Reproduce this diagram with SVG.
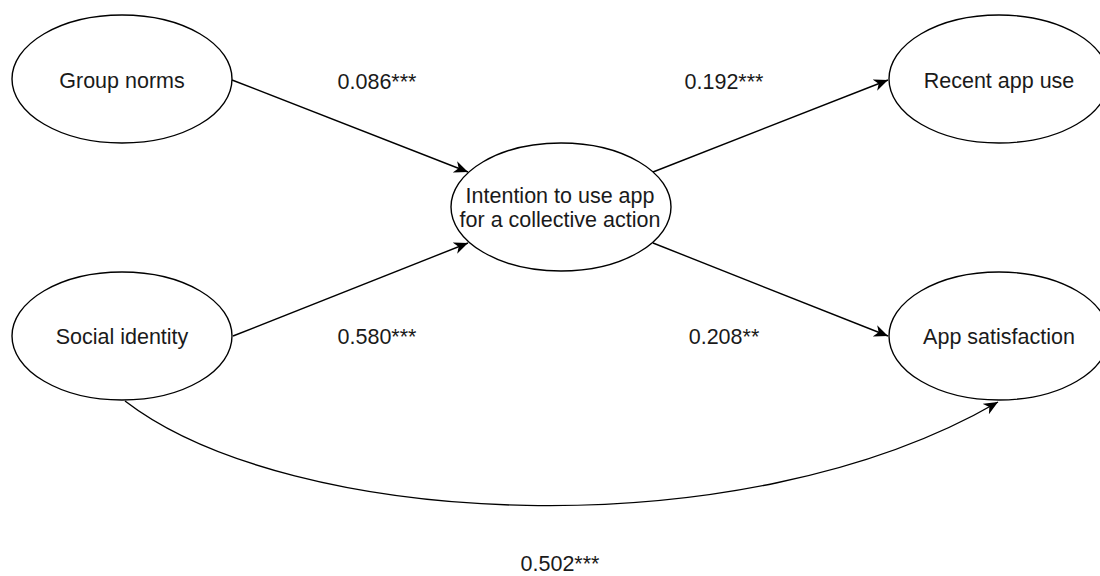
<svg xmlns="http://www.w3.org/2000/svg" width="1100" height="576" viewBox="0 0 1100 576">
<style>
.node ellipse{fill:#ffffff;stroke:#000000;stroke-width:1.4}
text{font-family:"Liberation Sans",Arial,Helvetica,sans-serif;font-size:21.5px;fill:#1a1a1a;text-anchor:middle}
.edge{fill:none;stroke:#000000;stroke-width:1.4;marker-end:url(#arr)}
</style>
<defs>
<marker id="arr" markerUnits="userSpaceOnUse" markerWidth="16" markerHeight="14" refX="14" refY="6" orient="auto">
<path d="M0,0 L14,6 L0,12 L4,6 Z" fill="#000000"/>
</marker>
</defs>
<rect width="1100" height="576" fill="#ffffff"/>
<g id="connectors">
<path class="edge" d="M232,80 L468,172"/>
<path class="edge" d="M233,336 L468,243"/>
<path class="edge" d="M653,172 L888,80"/>
<path class="edge" d="M653,243 L888,336"/>
<path class="edge" d="M125,401 C290,528 740,552 998,402"/>
</g>
<g id="group-norms" class="node">
<ellipse cx="122" cy="79" rx="110" ry="64"/>
<text x="122" y="88">Group norms</text>
</g>
<g id="social-identity" class="node">
<ellipse cx="122" cy="336" rx="110" ry="64"/>
<text x="122" y="344">Social identity</text>
</g>
<g id="intention" class="node">
<ellipse cx="561" cy="207" rx="110" ry="64"/>
<text x="560" y="203">Intention to use app</text>
<text x="560" y="227">for a collective action</text>
</g>
<g id="recent-app-use" class="node">
<ellipse cx="999" cy="79" rx="110" ry="64"/>
<text x="999" y="88">Recent app use</text>
</g>
<g id="app-satisfaction" class="node">
<ellipse cx="999" cy="336" rx="110" ry="64"/>
<text x="999" y="344">App satisfaction</text>
</g>
<g id="labels">
<text x="377" y="89">0.086***</text>
<text x="724" y="89">0.192***</text>
<text x="377" y="344">0.580***</text>
<text x="724" y="344">0.208**</text>
<text x="560" y="571">0.502***</text>
</g>
</svg>
